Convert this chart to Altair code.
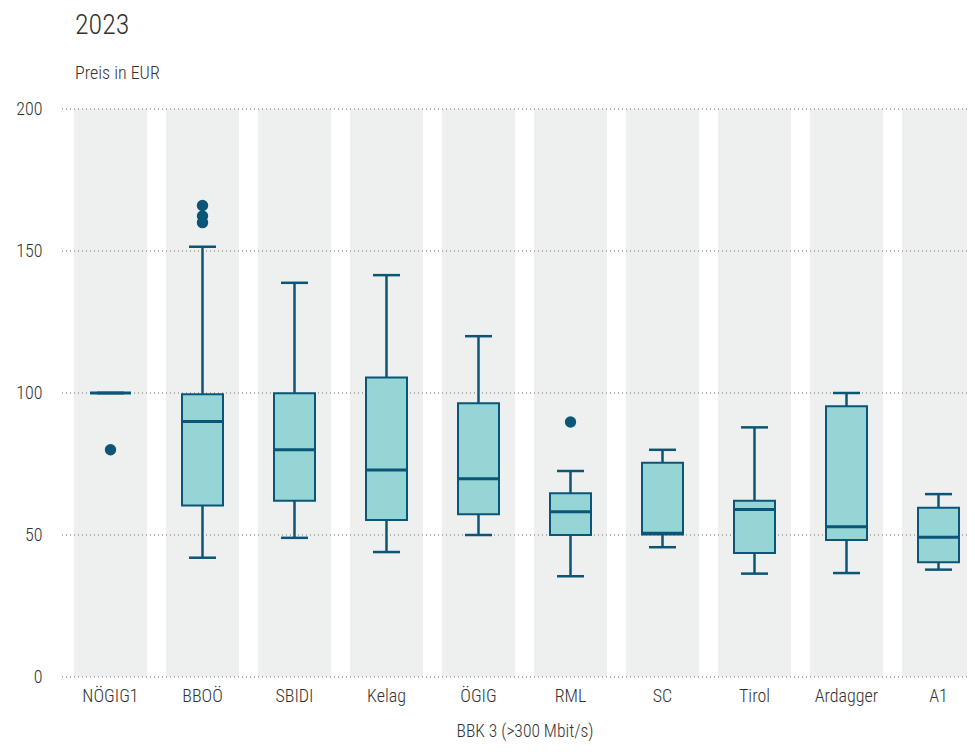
import altair as alt
import pandas as pd

categories = ["NÖGIG1", "BBOÖ", "SBIDI", "Kelag", "ÖGIG", "RML", "SC", "Tirol", "Ardagger", "A1"]
whisker_low = [100, 42, 49, 44, 50, 35.5, 45.7, 36.4, 36.6, 37.8]
q1 = [100, 60.4, 62.1, 55.3, 57.3, 50, 50.2, 43.7, 48.2, 40.4]
median = [100, 90, 80, 72.9, 69.8, 58.2, 50.6, 59, 52.9, 49.2]
q3 = [100, 99.6, 99.9, 105.5, 96.4, 64.7, 75.4, 62.1, 95.3, 59.6]
whisker_high = [100, 151.5, 138.8, 141.5, 120, 72.5, 80, 87.9, 100, 64.4]

outlier_cat = ["NÖGIG1", "BBOÖ", "BBOÖ", "BBOÖ", "RML"]
outlier_val = [80, 166, 162.3, 160, 89.8]

tick_values = [0, 50, 100, 150, 200]

FONT = "Roboto Condensed, Roboto, sans-serif"
TEXT = "#333333"
DARK = "#0b5578"
FILL = "#96d5d5"
BAND = "#eef0ef"

df = pd.DataFrame({
    "cat": categories, "lo": whisker_low, "q1": q1, "med": median,
    "q3": q3, "hi": whisker_high,
})
df_out = pd.DataFrame({"cat": outlier_cat, "val": outlier_val})
df_grid = pd.DataFrame({"v": tick_values})

xscale = alt.Scale(domain=categories, range=[0, 925], paddingInner=0.2065,
                   paddingOuter=0.1304, align=0.5)
xenc = alt.X("cat:N", scale=xscale, sort=categories,
             axis=alt.Axis(title="BBK 3 (>300 Mbit/s)", labelAngle=0, domain=False,
                           ticks=False, labelPadding=10, titlePadding=17,
                           labelFontSize=18, titleFontSize=17.5, titleFontWeight=300,
                           labelFontWeight=300,
                           labelColor=TEXT, titleColor=TEXT, labelFont=FONT, titleFont=FONT))
yscale = alt.Scale(domain=[0, 200], nice=False)

bands = alt.Chart(df).mark_bar(color=BAND).encode(
    x=xenc,
    y=alt.datum(0, scale=yscale,
                axis=alt.Axis(values=tick_values, grid=False, domain=False, ticks=False,
                              labelPadding=20, labelFontSize=18, labelColor=TEXT,
                              labelFontWeight=300, labelFont=FONT, title=None)),
    y2=alt.datum(200),
)

grid = alt.Chart(df_grid).mark_rule(color="#9a9a9a", strokeDash=[1, 3], strokeWidth=1.3).encode(
    y=alt.Y("v:Q", scale=yscale)
)

whisk = alt.Chart(df).mark_rule(color=DARK, strokeWidth=2.5).encode(
    x=alt.X("cat:N", sort=categories), y=alt.Y("lo:Q", scale=yscale), y2="hi:Q"
)
box = alt.Chart(df).mark_bar(size=41, fill=FILL, stroke=DARK, strokeWidth=2).encode(
    x=alt.X("cat:N", sort=categories), y=alt.Y("q1:Q", scale=yscale), y2="q3:Q"
)
med = alt.Chart(df).mark_tick(size=41, thickness=3, color=DARK, opacity=1).encode(
    x=alt.X("cat:N", sort=categories), y=alt.Y("med:Q", scale=yscale)
)
cap_lo = alt.Chart(df).mark_tick(size=27, thickness=2.5, color=DARK, opacity=1).encode(
    x=alt.X("cat:N", sort=categories), y=alt.Y("lo:Q", scale=yscale)
)
cap_hi = alt.Chart(df).mark_tick(size=27, thickness=2.5, color=DARK, opacity=1).encode(
    x=alt.X("cat:N", sort=categories), y=alt.Y("hi:Q", scale=yscale)
)
outl = alt.Chart(df_out).mark_circle(size=130, color=DARK, opacity=1).encode(
    x=alt.X("cat:N", sort=categories), y=alt.Y("val:Q", scale=yscale)
)

chart = alt.layer(bands, grid, whisk, box, med, cap_lo, cap_hi, outl).properties(
    width=905, height=568,
    autosize=alt.AutoSizeParams(type="none"),
    padding={"left": 54, "top": 101, "right": 0, "bottom": 67},
    title=alt.TitleParams(text="2023", subtitle="Preis in EUR", anchor="start", dx=13,
                          frame="group",
                          fontSize=28, fontWeight=300, subtitleFontSize=18,
                          subtitleFontWeight=300,
                          font=FONT, subtitleFont=FONT, color=TEXT, subtitleColor=TEXT,
                          offset=17, subtitlePadding=25),
).configure_view(stroke=None)

chart.save("out.html", embed_options={"renderer": "svg", "actions": False})
